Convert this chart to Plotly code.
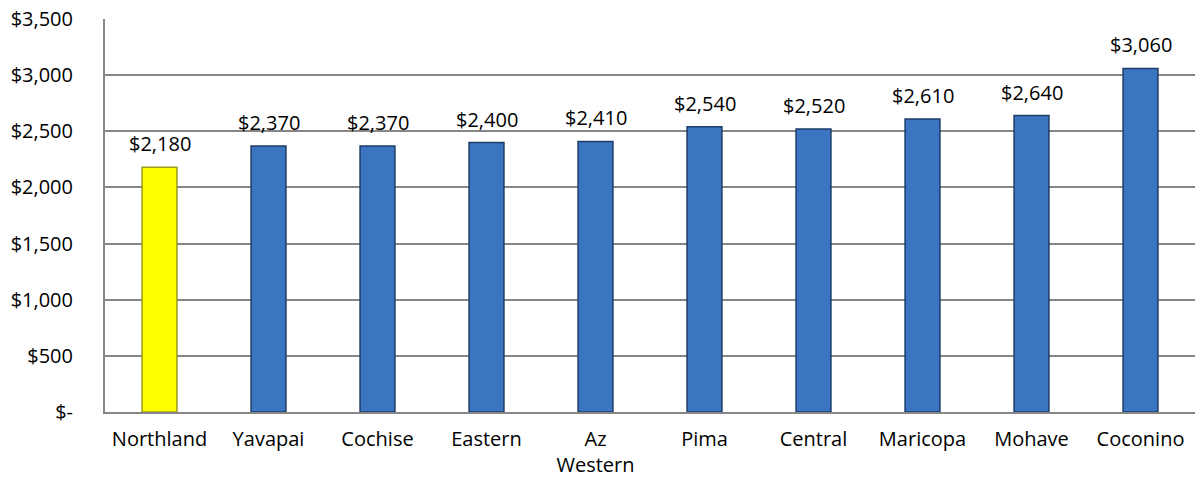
import plotly.graph_objects as go

categories = ["Northland", "Yavapai", "Cochise", "Eastern", "Az<br>Western", "Pima",
              "Central", "Maricopa", "Mohave", "Coconino"]
values = [2180, 2370, 2370, 2400, 2410, 2540, 2520, 2610, 2640, 3060]
tick_vals = [0, 500, 1000, 1500, 2000, 2500, 3000, 3500]
tick_text = ["$-", "$500", "$1,000", "$1,500", "$2,000", "$2,500", "$3,000", "$3,500"]

fill = ["#FFFF00"] + ["#3B75C2"] * (len(values) - 1)
edge = ["#9A9A1A"] + ["#1E3C68"] * (len(values) - 1)
labels = ["${:,}".format(v) for v in values]

fig = go.Figure(go.Bar(
    x=categories, y=values,
    marker=dict(color=fill, line=dict(color=edge, width=1.5)),
    width=0.32,
))

for c, v, t in zip(categories, values, labels):
    fig.add_annotation(x=c, y=v, text=t, showarrow=False, yanchor="bottom",
                       yshift=8, font=dict(family="Open Sans", size=20, color="#000000"))

fig.update_layout(
    width=1197, height=485,
    margin=dict(l=105, r=2, t=19, b=73, autoexpand=False),
    paper_bgcolor="white", plot_bgcolor="white",
    showlegend=False,
    font=dict(family="Open Sans", size=20, color="#000000"),
)
fig.update_xaxes(showgrid=False, showline=True, linecolor="#878787", linewidth=2,
                 ticks="", tickfont=dict(size=20), automargin=False,
                 ticklabelstandoff=8)
fig.update_yaxes(range=[0, 3500], tickvals=tick_vals, ticktext=tick_text,
                 showgrid=True, gridcolor="#878787", gridwidth=1.5,
                 showline=True, linecolor="#878787", linewidth=2,
                 zeroline=False, ticks="", tickfont=dict(size=20),
                 automargin=False, ticklabelstandoff=26)

fig.write_html("out.html", config={"displayModeBar": False},
               post_script="document.body.style.margin='0';document.body.style.overflow='hidden';")
